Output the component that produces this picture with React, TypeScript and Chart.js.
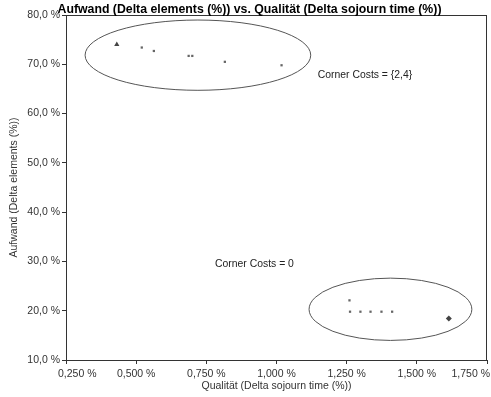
import React, { useEffect, useRef } from "react";
import { Chart, registerables } from "chart.js";

Chart.register(...registerables);

const chartTitle = "Aufwand (Delta elements (%)) vs. Qualität (Delta sojourn time (%))";
const xAxisTitle = "Qualität (Delta sojourn time (%))";
const yAxisTitle = "Aufwand (Delta elements (%))";

const xTicks = [0.25, 0.5, 0.75, 1.0, 1.25, 1.5, 1.75];
const yTicks = [10, 20, 30, 40, 50, 60, 70, 80];

const upperX = [0.52, 0.563, 0.687, 0.7, 0.816, 1.018];
const upperY = [73.4, 72.7, 71.7, 71.7, 70.5, 69.8];
const upperSpecialX = [0.431];
const upperSpecialY = [74.0];

const lowerX = [1.26, 1.262, 1.299, 1.335, 1.374, 1.412];
const lowerY = [22.1, 19.8, 19.8, 19.8, 19.8, 19.8];
const lowerSpecialX = [1.614];
const lowerSpecialY = [18.4];

// ellipses in data units: [centerX, centerY, radiusX, radiusY]
const upperEllipse = [0.72, 71.85, 0.402, 7.13];
const lowerEllipse = [1.406, 20.29, 0.29, 6.32];

const annotationTexts = ["Corner Costs = {2,4}", "Corner Costs = 0"];
const annotationX = [1.147, 0.781];
const annotationY = [67.8, 29.5];

const FONT = "'Liberation Sans', Arial, sans-serif";
const TEXT = "#333333";

const fmtX = (v: number) => v.toFixed(3).replace(".", ",") + " %";
const fmtY = (v: number) => v.toFixed(1).replace(".", ",") + " %";

const toPts = (xs: number[], ys: number[]) => xs.map((x, i) => ({ x, y: ys[i] }));

const edgeLabelPlugin = {
  id: "edgeLabels",
  beforeDraw(chart: any) {
    const xs = chart.scales.x;
    const items = xs.getLabelItems(chart.chartArea);
    if (!items || !items.length) return;
    const first = items[0];
    const last = items[items.length - 1];
    first.options.textAlign = "left";
    first.options.translation[0] = xs.getPixelForValue(xTicks[0]) - 8;
    last.options.textAlign = "right";
    last.options.translation[0] = chart.width - 1;
  },
};

const overlayPlugin = {
  id: "overlay",
  afterDatasetsDraw(chart: any) {
    const { ctx, chartArea, scales } = chart;
    const xs = scales.x;
    const ys = scales.y;
    ctx.save();
    // frame
    ctx.strokeStyle = "#333333";
    ctx.lineWidth = 1;
    ctx.strokeRect(
      Math.round(chartArea.left) + 0.5,
      Math.round(chartArea.top) + 0.5,
      Math.round(chartArea.right - chartArea.left) - 1,
      Math.round(chartArea.bottom - chartArea.top)
    );
    // ellipses
    ctx.strokeStyle = "#555555";
    for (const e of [upperEllipse, lowerEllipse]) {
      const cx = xs.getPixelForValue(e[0]);
      const cy = ys.getPixelForValue(e[1]);
      const rx = Math.abs(xs.getPixelForValue(e[0] + e[2]) - cx);
      const ry = Math.abs(ys.getPixelForValue(e[1] + e[3]) - cy);
      ctx.beginPath();
      ctx.ellipse(cx, cy, rx, ry, 0, 0, Math.PI * 2);
      ctx.stroke();
    }
    // annotation texts
    ctx.fillStyle = "#222222";
    ctx.font = `10.4px ${FONT}`;
    ctx.textAlign = "left";
    ctx.textBaseline = "middle";
    annotationTexts.forEach((t, i) => {
      ctx.fillText(t, xs.getPixelForValue(annotationX[i]), ys.getPixelForValue(annotationY[i]));
    });
    // title
    ctx.fillStyle = "#000000";
    ctx.font = `bold 12.3px ${FONT}`;
    ctx.textAlign = "center";
    ctx.textBaseline = "alphabetic";
    ctx.fillText(chartTitle, 249.5, 13);
    ctx.restore();
  },
};

export default function App() {
  const ref = useRef<HTMLCanvasElement | null>(null);
  useEffect(() => {
    if (!ref.current) return;
    const chart = new Chart(ref.current, {
      type: "scatter",
      data: {
        datasets: [
          {
            data: toPts(upperX, upperY),
            pointStyle: "rect",
            pointRadius: 1.6,
            backgroundColor: "#666666",
            borderColor: "#666666",
            borderWidth: 0,
          },
          {
            data: toPts(upperSpecialX, upperSpecialY),
            pointStyle: "triangle",
            pointRadius: 3,
            backgroundColor: "#444444",
            borderColor: "#444444",
            borderWidth: 0,
          },
          {
            data: toPts(lowerX, lowerY),
            pointStyle: "rect",
            pointRadius: 1.6,
            backgroundColor: "#666666",
            borderColor: "#666666",
            borderWidth: 0,
          },
          {
            data: toPts(lowerSpecialX, lowerSpecialY),
            pointStyle: "rectRot",
            pointRadius: 3,
            backgroundColor: "#444444",
            borderColor: "#444444",
            borderWidth: 0,
          },
        ],
      },
      options: {
        animation: false,
        responsive: false,
        maintainAspectRatio: false,
        events: [],
        layout: { padding: { left: 8, top: 15, right: 3, bottom: 5 } },
        plugins: { legend: { display: false }, tooltip: { enabled: false }, title: { display: false } },
        scales: {
          x: {
            type: "linear",
            min: 0.25,
            max: 1.75,
            afterBuildTicks: (s: any) => {
              s.ticks = xTicks.map((v) => ({ value: v }));
            },
            afterFit: (s: any) => {
              s.height = 32;
              s.paddingLeft = 0;
              s.paddingRight = 0;
            },
            grid: { drawOnChartArea: false, drawTicks: true, tickLength: 4, color: "#333333" },
            border: { display: true, color: "#333333", width: 1 },
            ticks: {
              callback: (v: any) => fmtX(Number(v)),
              color: TEXT,
              font: { family: FONT, size: 10.5 },
              padding: 4,
              maxRotation: 0,
              autoSkip: false,
            },
            title: {
              display: true,
              text: xAxisTitle,
              color: TEXT,
              font: { family: FONT, size: 10.5 },
              padding: { top: 0, bottom: 0 },
            },
          },
          y: {
            type: "linear",
            min: 10,
            max: 80,
            afterBuildTicks: (s: any) => {
              s.ticks = yTicks.map((v) => ({ value: v }));
            },
            afterFit: (s: any) => {
              s.width = 58;
              s.paddingTop = 0;
              s.paddingBottom = 0;
            },
            grid: { drawOnChartArea: false, drawTicks: true, tickLength: 4, color: "#333333" },
            border: { display: true, color: "#333333", width: 1 },
            ticks: {
              callback: (v: any) => fmtY(Number(v)),
              color: TEXT,
              font: { family: FONT, size: 10.5 },
              padding: 2,
              autoSkip: false,
            },
            title: {
              display: true,
              text: yAxisTitle,
              color: TEXT,
              font: { family: FONT, size: 10.5 },
              padding: { top: 0, bottom: 0 },
            },
          },
        },
      },
      plugins: [edgeLabelPlugin, overlayPlugin],
    });
    return () => chart.destroy();
  }, []);
  return (
    <div style={{ position: "absolute", left: 0, top: 0, width: 491, height: 397, background: "#fff" }}>
      <canvas ref={ref} width={491} height={397} style={{ width: 491, height: 397, display: "block" }} />
    </div>
  );
}
